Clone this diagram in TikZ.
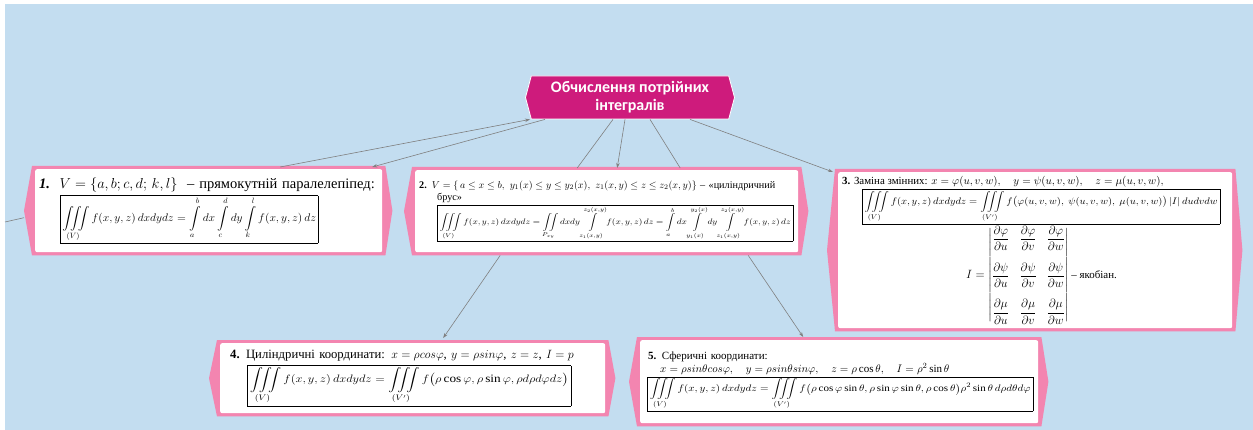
\documentclass[tikz,border=0pt]{standalone}
\usepackage{amsmath}
\usepackage{amssymb}
\usepackage{graphicx}
\usepackage{fontspec}
\setmainfont{Liberation Serif}
\newfontfamily\headfont{Carlito}
\usetikzlibrary{
	arrows.meta,
	positioning,
	shapes.symbols,
	backgrounds,
	calc
}
\definecolor{SkyBack}{RGB}{195,221,240}
\definecolor{HeadPink}{RGB}{206,27,124}
\definecolor{FramePink}{RGB}{243,133,176}
\definecolor{LinkGray}{RGB}{128,128,128}

\tikzset{
	headnode/.style={signal, signal to=west and east, signal pointer angle=150,
		fill=HeadPink, draw=white, line width=0.8pt, text=white, align=center,
		font=\headfont\bfseries\fontsize{16}{18}\selectfont,
		minimum width=209pt, minimum height=43pt, inner sep=2pt},
	card/.style={fill=white, rounded corners=2pt, anchor=north west, align=left, inner sep=4pt},
	link/.style={draw=LinkGray, line width=0.6pt},
	linkarrow/.style={link, -{Stealth[length=5pt,width=3.5pt]}}
}

% pink hexagon behind a card
\newcommand{\pinkframe}[1]{%
	\fill[FramePink] ([shift={(-3pt,3pt)}]#1.north west) -- ([shift={(3pt,3pt)}]#1.north east)
		-- ([xshift=10pt]#1.east) -- ([shift={(3pt,-3pt)}]#1.south east)
		-- ([shift={(-3pt,-3pt)}]#1.south west) -- ([xshift=-11pt]#1.west) -- cycle;}

\setlength{\fboxsep}{2pt}
\setlength{\fboxrule}{0.6pt}

\begin{document}
\begin{tikzpicture}[x=1pt, y=-1pt]
	\useasboundingbox (0,0) rectangle (1253,430);
	\begin{pgfonlayer}{background}
		\fill[SkyBack] (5,4) rectangle (1253,430);
	\end{pgfonlayer}

	\node[headnode] (ctr) at (630,97.5) {Обчислення потрійних\\інтегралів};

	% 1: box
	\node[card, font=\fontsize{14.5}{17}\selectfont, text width=339pt, minimum height=83pt] (b1) at (35,169) {%
		\textbf{\textit{1.}}\ \ $V=\left\{a,b;c,d;\,k,l\right\}$\ \ – прямокутній паралелепіпед:\\[2pt]
		\hspace*{21pt}\resizebox*{258pt}{48pt}{\fbox{$\displaystyle\iiint\limits_{(V)} f(x,y,z)\,dxdydz=\int\limits_a^b dx\int\limits_c^d dy\int\limits_k^l f(x,y,z)\,dz$}}};

	% 2: cylindrical bar
	\node[card, font=\fontsize{10.2}{12}\selectfont, text width=375pt, minimum height=82pt] (b2) at (415,170) {%
		\textbf{2.} $V=\{\,a\le x\le b,\ y_1(x)\le y\le y_2(x),\ z_1(x,y)\le z\le z_2(x,y)\}$ – «циліндричний\\
		\hspace*{18pt}брус»\\[1pt]
		\hspace*{18pt}\resizebox*{356pt}{37pt}{\fbox{$\displaystyle\iiint\limits_{(V)} f(x,y,z)\,dxdydz=\iint\limits_{P_{xy}}dxdy\int\limits_{z_1(x,y)}^{z_2(x,y)}f(x,y,z)\,dz=\int\limits_a^b dx\int\limits_{y_1(x)}^{y_2(x)}dy\int\limits_{z_1(x,y)}^{z_2(x,y)}f(x,y,z)\,dz$}}};

	% 3: change of variables
	\node[card, font=\fontsize{10.9}{13}\selectfont] (b3) at (838,172) {%
		\parbox[t][148pt][t]{386pt}{%
		\textbf{3.} Заміна змінних: $x=\varphi(u,v,w),\quad y=\psi(u,v,w),\quad z=\mu(u,v,w),$\\[1pt]
		\hspace*{20pt}\resizebox*{358pt}{35pt}{\fbox{$\displaystyle\iiint\limits_{(V)} f(x,y,z)\,dxdydz=\iiint\limits_{(V')} f\bigl(\varphi(u,v,w),\ \psi(u,v,w),\ \mu(u,v,w)\bigr)\left|I\right|dudvdw$}}\\[1pt]
		\hspace*{124pt}{\fontsize{12}{14}\selectfont$I=\begin{vmatrix}
			\dfrac{\partial\varphi}{\partial u} & \dfrac{\partial\varphi}{\partial v} & \dfrac{\partial\varphi}{\partial w}\\[16pt]
			\dfrac{\partial\psi}{\partial u} & \dfrac{\partial\psi}{\partial v} & \dfrac{\partial\psi}{\partial w}\\[16pt]
			\dfrac{\partial\mu}{\partial u} & \dfrac{\partial\mu}{\partial v} & \dfrac{\partial\mu}{\partial w}
		\end{vmatrix}$} – якобіан.}};

	% 4: cylindrical coordinates
	\node[card, font=\fontsize{12.7}{15}\selectfont, text width=377pt, minimum height=70pt] (b4) at (220,343) {%
		\hspace*{6pt}\textbf{4.} Циліндричні координати: $x=\rho cos\varphi$, $y=\rho sin\varphi$, $z=z$, $I=p$\\[3pt]
		\hspace*{23pt}\resizebox*{324pt}{41pt}{\fbox{$\displaystyle\iiint\limits_{(V)} f(x,y,z)\,dxdydz=\iiint\limits_{(V')} f\bigl(\rho\cos\varphi,\rho\sin\varphi,\rho d\rho d\varphi dz\bigr)$}}};

	% 5: spherical coordinates
	\node[card, font=\fontsize{11}{13}\selectfont, text width=390pt, minimum height=83pt] (b5) at (640,340) {%
		\hspace*{4pt}\textbf{5.} Сферичні координати:\\
		\hspace*{16pt}$x=\rho sin\theta cos\varphi,\quad y=\rho sin\theta sin\varphi,\quad z=\rho\cos\theta,\quad I=\rho^2\sin\theta$\\[1pt]
		\hspace*{3pt}\resizebox*{386pt}{35pt}{\fbox{$\displaystyle\iiint\limits_{(V)} f(x,y,z)\,dxdydz=\iiint\limits_{(V')} f\bigl(\rho\cos\varphi\sin\theta,\rho\sin\varphi\sin\theta,\rho\cos\theta\bigr)\rho^2\sin\theta\, d\rho d\theta d\varphi$}}};

	\begin{pgfonlayer}{background}
		\pinkframe{b1}
		\pinkframe{b2}
		\pinkframe{b3}
		\pinkframe{b4}
		\pinkframe{b5}
	\end{pgfonlayer}

	% connectors
	\coordinate (offleft) at (5,222);
	\draw[link] (offleft) -- ([shift={(-11pt,-7pt)}]b1.west);
	\draw[linkarrow] ([xshift=-85pt]ctr.south) -- ([shift={(163.5pt,2pt)}]b1.north);
	\draw[linkarrow] ([shift={(71.5pt,2pt)}]b1.north) -- ([xshift=-100pt]ctr.south);
	\draw[link] ([xshift=-17pt]ctr.south) -- ([shift={(-29.5pt,2pt)}]b2.north);
	\draw[linkarrow] ([xshift=-5pt]ctr.south) -- ([shift={(10.5pt,2pt)}]b2.north);
	\draw[link] ([xshift=20pt]ctr.south) -- ([shift={(73.5pt,2pt)}]b2.north);
	\draw[linkarrow] ([xshift=60pt]ctr.south) -- ([xshift=-5pt]b3.north west);
	\draw[linkarrow] ([shift={(-106.5pt,-3pt)}]b2.south) -- ([shift={(30.5pt,5pt)}]b4.north);
	\draw[linkarrow] ([shift={(141.5pt,-3pt)}]b2.south) -- ([shift={(-36pt,3pt)}]b5.north);
\end{tikzpicture}
\end{document}
